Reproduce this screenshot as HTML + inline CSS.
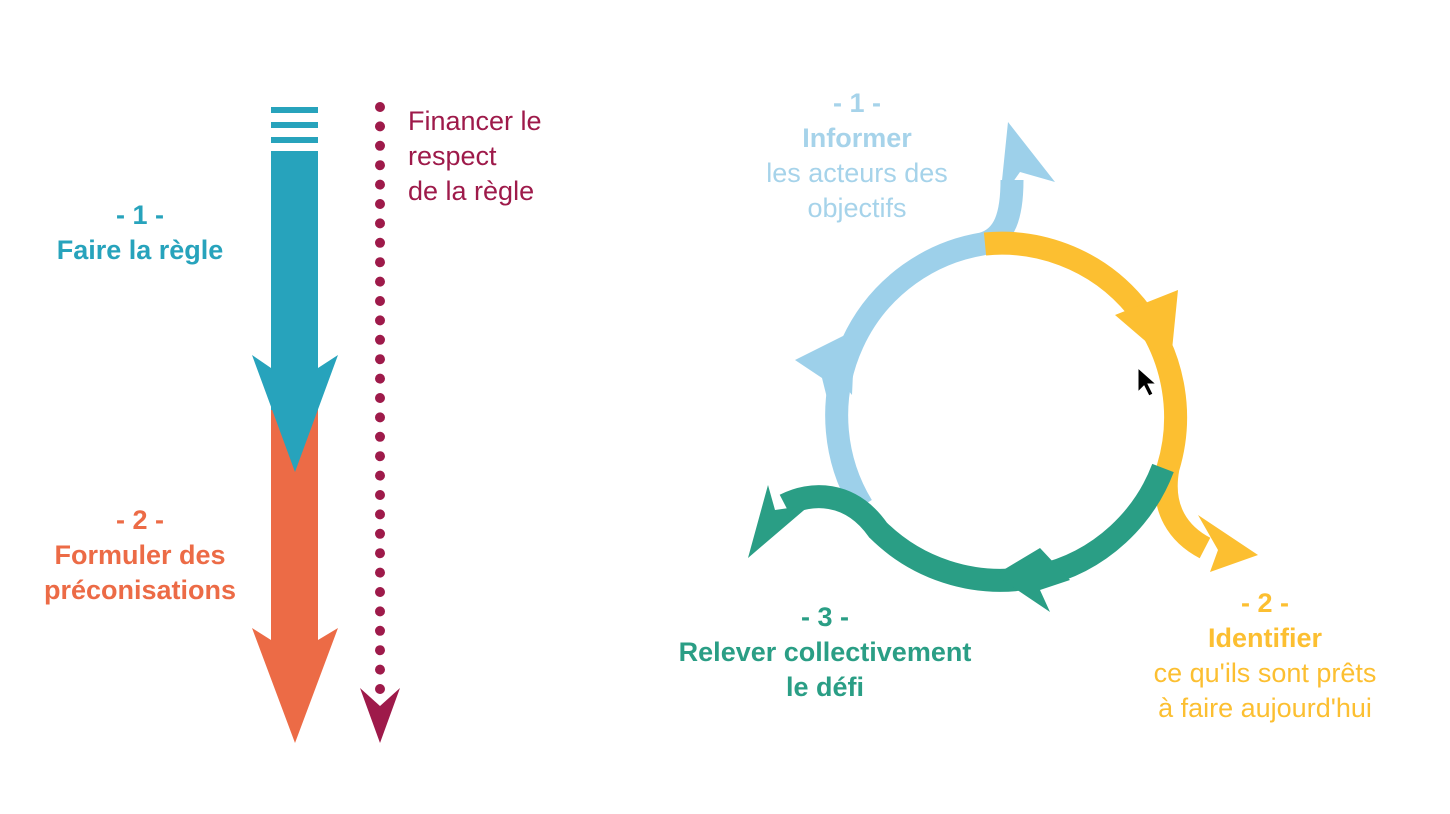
<!DOCTYPE html>
<html><head><meta charset="utf-8"><style>
html,body{margin:0;padding:0;background:#fff;}
body{width:1450px;height:814px;position:relative;overflow:hidden;font-family:"Liberation Sans",sans-serif;}
.t{position:absolute;text-align:center;line-height:35px;font-size:27px;}
</style></head><body>
<svg width="1450" height="814" style="position:absolute;left:0;top:0">
  <rect x="271" y="107" width="47" height="6" fill="#27a3bc"/>
  <rect x="271" y="122" width="47" height="6" fill="#27a3bc"/>
  <rect x="271" y="137" width="47" height="6" fill="#27a3bc"/>
  <rect x="271" y="151" width="47" height="270" fill="#27a3bc"/>
  <rect x="271" y="410" width="47" height="240" fill="#ec6b46"/>
  <polygon points="252,628 271,640 318,640 338,628 295,743" fill="#ec6b46"/>
  <polygon points="252,355 271,368 318,368 338,355 295,472" fill="#27a3bc"/>
  <line x1="380" y1="107" x2="380" y2="700" stroke="#9e1a4a" stroke-width="10" stroke-linecap="round" stroke-dasharray="0 19.4"/>
  <polygon points="360,688 380,706 400,688 380,743" fill="#9e1a4a"/>
  <g fill="none" stroke-width="23">
    <path d="M862,506 A174,174 0 0 1 982,244 C1005,238 1012,215 1012,180" stroke="#9dd0ea"/>
    <path d="M985,244 A174,174 0 0 1 1168,468 C1160,510 1180,535 1205,548" stroke="#fcbf31"/>
    <path d="M1163,468 A174,174 0 0 1 878,530 C850,490 810,492 785,505" stroke="#2a9e85"/>
  </g>
  <polygon points="1008,122 1055,182 1020,172 1000,200" fill="#9dd0ea"/>
  <polygon points="795,360 855,330 852,395 840,380 830,410 822,378" fill="#9dd0ea"/>
  <polygon points="1115,315 1178,290 1172,350 1165,360 1150,345" fill="#fcbf31"/>
  <polygon points="1258,555 1210,572 1218,550 1198,515" fill="#fcbf31"/>
  <polygon points="1040,548 995,575 1050,612 1040,590 1070,580" fill="#2a9e85"/>
  <polygon points="748,558 768,485 775,510 810,505" fill="#2a9e85"/>
  <polygon points="1138,368 1138,392 1144,386 1149,396 1153,394 1148,384 1156,384" fill="#000" stroke="#fff" stroke-width="1"/>
</svg>
<div class="t" style="left:40px;top:198px;width:200px;color:#27a3bc;font-weight:bold">- 1 -<br>Faire la règle</div>
<div class="t" style="left:20px;top:503px;width:240px;color:#ec6b46;font-weight:bold">- 2 -<br>Formuler des<br>préconisations</div>
<div class="t" style="left:408px;top:104px;color:#9e1a4a;text-align:left">Financer le<br>respect<br>de la règle</div>
<div class="t" style="left:727px;top:86px;width:260px;color:#a6d3ea"><b>- 1 -<br>Informer</b><br>les acteurs des<br>objectifs</div>
<div class="t" style="left:1115px;top:586px;width:300px;color:#fcbf31"><b>- 2 -<br>Identifier</b><br>ce qu'ils sont prêts<br>à faire aujourd'hui</div>
<div class="t" style="left:650px;top:600px;width:350px;color:#2a9e85;font-weight:bold">- 3 -<br>Relever collectivement<br>le défi</div>
</body></html>
